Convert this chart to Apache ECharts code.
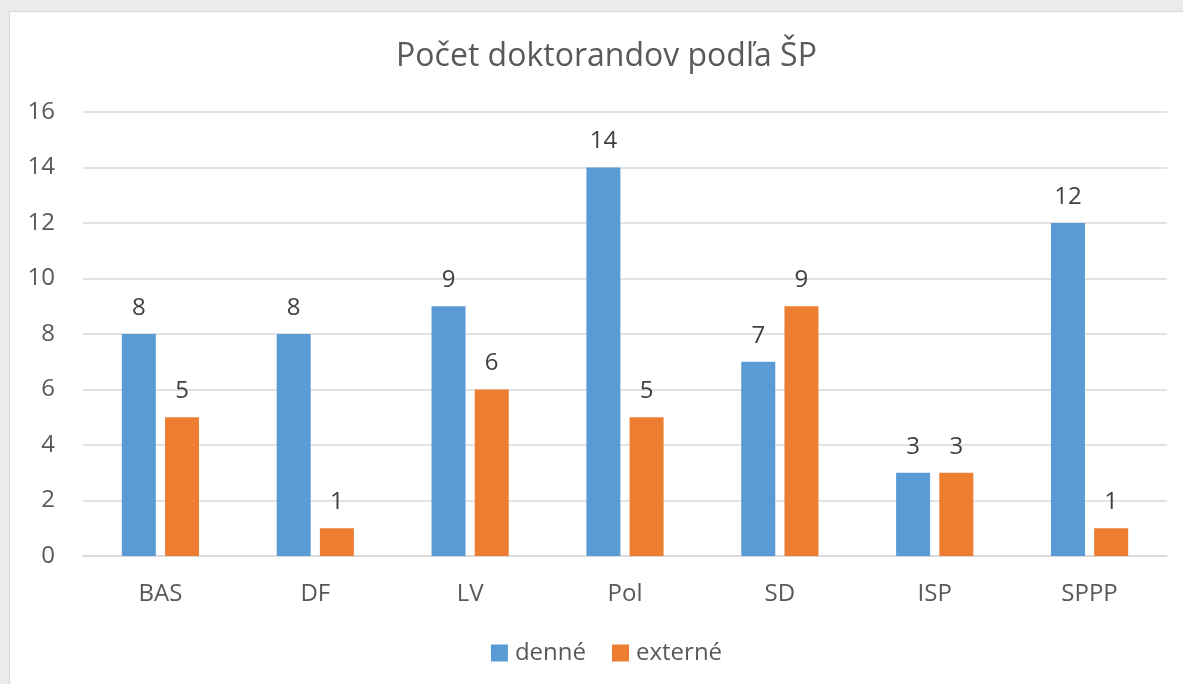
<!DOCTYPE html>
<html>
<head>
<meta charset="utf-8">
<script src="https://cdn.jsdelivr.net/npm/echarts@6/dist/echarts.min.js"></script>
<style>
	html, body { margin: 0; padding: 0; width: 1183px; height: 684px; overflow: hidden; background: #ebebeb; }
	#box { position: absolute; left: 9px; top: 11px; width: 1194px; height: 673px; box-sizing: border-box;
		border-left: 1px solid #d6d6d6; border-top: 1px solid #d6d6d6; background: #fff; }
</style>
</head>
<body>
<div id="box"></div>
<script>
	var categories = ['BAS', 'DF', 'LV', 'Pol', 'SD', 'ISP', 'SPPP'];
	var denne = [8, 8, 9, 14, 7, 3, 12];
	var externe = [5, 1, 6, 5, 9, 3, 1];

	var font = '"Open Sans", "Noto Sans", sans-serif';
	var chart = echarts.init(document.getElementById('box'));

	var labelStyle = {
		show: true,
		position: 'top',
		distance: 14,
		fontSize: 24,
		fontFamily: font,
		color: '#404040'
	};

	var option = {
		animation: false,
		textStyle: { fontFamily: font },
		title: {
			text: 'Počet doktorandov podľa ŠP',
			left: 'center',
			top: 24,
			textStyle: { fontSize: 32, fontWeight: 'normal', color: '#595959', fontFamily: font }
		},
		legend: {
			data: ['denné', 'externé'],
			bottom: 14,
			left: 'center',
			itemWidth: 17,
			itemHeight: 17,
			itemGap: 26,
			icon: 'rect',
			textStyle: { fontSize: 24, color: '#595959', fontFamily: font, padding: [0, 0, 0, 2] }
		},
		grid: { left: 73, right: 36, top: 100, bottom: 128 },
		xAxis: {
			type: 'category',
			data: categories,
			axisLine: { lineStyle: { color: '#d9d9d9', width: 1.5 } },
			axisTick: { show: false },
			axisLabel: { fontSize: 24, color: '#595959', margin: 26, fontFamily: font }
		},
		yAxis: {
			type: 'value',
			min: 0,
			max: 16,
			interval: 2,
			axisLine: { show: false },
			axisTick: { show: false },
			axisLabel: { fontSize: 24, color: '#595959', margin: 28, fontFamily: font },
			splitLine: { lineStyle: { color: '#d9d9d9', width: 1.5 } }
		},
		series: [
			{
				name: 'denné',
				type: 'bar',
				data: denne,
				barWidth: 34,
				barGap: '27%',
				itemStyle: { color: '#5b9bd5' },
				label: labelStyle
			},
			{
				name: 'externé',
				type: 'bar',
				data: externe,
				barWidth: 34,
				itemStyle: { color: '#ed7d31' },
				label: labelStyle
			}
		]
	};
	chart.setOption(option);
</script>
</body>
</html>
